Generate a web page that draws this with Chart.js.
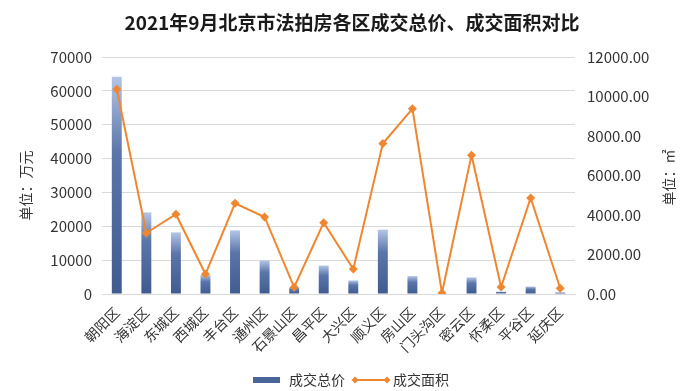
<!DOCTYPE html>
<html>
<head>
<meta charset="utf-8">
<script src="https://cdn.jsdelivr.net/npm/chart.js@4.4.0/dist/chart.umd.min.js"></script>
<style>
  html, body { margin: 0; padding: 0; background: #fff; }
  #wrap { width: 700px; height: 391px; position: relative; }
</style>
</head>
<body>
<div id="wrap"><canvas id="chart"></canvas></div>
<script>
// 数据
var districts = ['朝阳区','海淀区','东城区','西城区','丰台区','通州区','石景山区','昌平区','大兴区','顺义区','房山区','门头沟区','密云区','怀柔区','平谷区','延庆区'];
var totalPrice = [64200, 24100, 18200, 5600, 18800, 9900, 2000, 8400, 4000, 19000, 5300, 100, 4900, 700, 2200, 500];   // 万元
var totalArea = [10370, 3090, 4040, 1010, 4590, 3900, 340, 3610, 1270, 7620, 9380, 50, 7030, 355, 4860, 290];         // ㎡
var leftTicks = [0, 70000, 10000];
var rightTicks = [0, 12000, 2000];

var titleText = '2021年9月北京市法拍房各区成交总价、成交面积对比';
var leftTitle = '单位：万元';
var rightTitle = '单位：㎡';
var legendNames = ['成交总价', '成交面积'];

var FONT = '"Noto Sans CJK SC", "Noto Sans", sans-serif';
var ORANGE = '#EF8630';
var TEXT = '#333333';

// 柱子渐变
function barGradient(context) {
  var chart = context.chart;
  if (!chart.chartArea || context.type !== 'data') return '#4a6598';
  var ys = chart.scales.y;
  var top = ys.getPixelForValue(context.raw);
  var bottom = ys.getPixelForValue(0);
  if (!(bottom > top)) return '#4a6598';
  var g = chart.ctx.createLinearGradient(0, top, 0, bottom);
  g.addColorStop(0, '#b4c5e5');
  g.addColorStop(0.35, '#5a75aa');
  g.addColorStop(1, '#3f5b8f');
  return g;
}

// 标题、轴标题、图例
var decorations = {
  id: 'decorations',
  afterDraw: function (chart) {
    var ctx = chart.ctx;
    var area = chart.chartArea;
    var midY = (area.top + area.bottom) / 2;
    ctx.save();
    ctx.fillStyle = '#1a1a1a';
    ctx.font = 'bold 19px ' + FONT;
    ctx.textAlign = 'center';
    ctx.textBaseline = 'middle';
    ctx.fillText(titleText, 352, 23);

    ctx.fillStyle = TEXT;
    ctx.font = '14px ' + FONT;
    ctx.translate(26, midY + 10);
    ctx.rotate(-Math.PI / 2);
    ctx.fillText(leftTitle, 0, 0);
    ctx.setTransform(1, 0, 0, 1, 0, 0);
    ctx.translate(669, midY + 2);
    ctx.rotate(-Math.PI / 2);
    ctx.fillText(rightTitle, 0, 0);
    ctx.setTransform(1, 0, 0, 1, 0, 0);
    ctx.restore();

    // 图例
    ctx.save();
    var ly = 380;
    ctx.fillStyle = '#4a6598';
    ctx.fillRect(253, ly - 3, 27, 6);
    ctx.fillStyle = TEXT;
    ctx.font = '14px ' + FONT;
    ctx.textAlign = 'left';
    ctx.textBaseline = 'middle';
    ctx.fillText(legendNames[0], 289, ly);
    ctx.strokeStyle = ORANGE;
    ctx.lineWidth = 2;
    ctx.beginPath();
    ctx.moveTo(355, ly);
    ctx.lineTo(387, ly);
    ctx.stroke();
    ctx.fillStyle = ORANGE;
    [355, 387].forEach(function (x) {
      ctx.beginPath();
      ctx.moveTo(x, ly - 3.5);
      ctx.lineTo(x + 3.5, ly);
      ctx.lineTo(x, ly + 3.5);
      ctx.lineTo(x - 3.5, ly);
      ctx.closePath();
      ctx.fill();
    });
    ctx.fillStyle = TEXT;
    ctx.fillText(legendNames[1], 393, ly);
    ctx.restore();
  }
};

new Chart(document.getElementById('chart'), {
  type: 'bar',
  data: {
    labels: districts,
    datasets: [
      {
        type: 'line',
        label: legendNames[1],
        data: totalArea,
        yAxisID: 'y1',
        borderColor: ORANGE,
        backgroundColor: ORANGE,
        borderWidth: 2,
        pointStyle: 'rectRot',
        pointRadius: 4.5,
        pointBorderWidth: 0,
        tension: 0,
        order: 0
      },
      {
        type: 'bar',
        label: legendNames[0],
        data: totalPrice,
        yAxisID: 'y',
        backgroundColor: barGradient,
        categoryPercentage: 0.7,
        barPercentage: 0.48,
        order: 1
      }
    ]
  },
  options: {
    responsive: true,
    maintainAspectRatio: false,
    animation: false,
    layout: { padding: { top: 57, bottom: 0, left: 0, right: 0 } },
    plugins: {
      legend: { display: false },
      title: { display: false },
      tooltip: { enabled: false }
    },
    scales: {
      x: {
        grid: { display: false },
        border: { display: true, color: '#d9d9d9' },
        ticks: {
          autoSkip: false,
          minRotation: 45,
          maxRotation: 45,
          padding: 2,
          color: TEXT,
          font: { family: FONT, size: 14 }
        },
        afterFit: function (scale) { scale.height = 97; }
      },
      y: {
        position: 'left',
        min: leftTicks[0],
        max: leftTicks[1],
        ticks: {
          stepSize: leftTicks[2],
          padding: 10,
          color: TEXT,
          font: { family: FONT, size: 15 },
          callback: function (v) { return String(v); }
        },
        grid: { color: '#d9d9d9', drawTicks: false },
        border: { display: false },
        afterFit: function (scale) { scale.width = 102; }
      },
      y1: {
        position: 'right',
        min: rightTicks[0],
        max: rightTicks[1],
        ticks: {
          stepSize: rightTicks[2],
          padding: 12,
          color: TEXT,
          font: { family: FONT, size: 15 },
          callback: function (v) { return Number(v).toFixed(2); }
        },
        grid: { display: false, drawTicks: false },
        border: { display: false },
        afterFit: function (scale) { scale.width = 125; }
      }
    }
  },
  plugins: [decorations]
});
</script>
</body>
</html>
